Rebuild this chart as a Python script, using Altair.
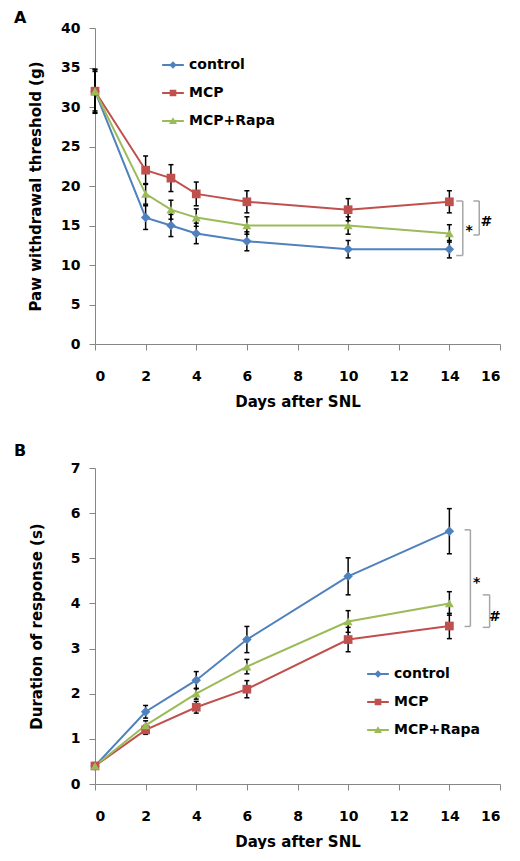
import altair as alt
import pandas as pd

# ---------------- data ----------------
groups = ["control", "MCP", "MCP+Rapa"]
colors = ["#4F81BD", "#C0504D", "#9BBB59"]
shapes = ["diamond", "square", "triangle-up"]
marker_sizes = [90, 76, 80]

# Panel A: paw withdrawal threshold (g)
days_a = [0, 2, 3, 4, 6, 10, 14]
control_a = [32, 16, 15, 14, 13, 12, 12]
mcp_a = [32, 22, 21, 19, 18, 17, 18]
rapa_a = [32, 19, 17, 16, 15, 15, 14]
control_a_err = [2.8, 1.5, 1.4, 1.3, 1.2, 1.1, 1.1]
mcp_a_err = [2.5, 1.8, 1.7, 1.5, 1.4, 1.4, 1.4]
rapa_a_err = [2.7, 1.3, 1.2, 1.1, 1.1, 1.1, 1.1]

# Panel B: duration of response (s)
days_b = [0, 2, 4, 6, 10, 14]
control_b = [0.4, 1.6, 2.3, 3.2, 4.6, 5.6]
mcp_b = [0.4, 1.2, 1.7, 2.1, 3.2, 3.5]
rapa_b = [0.4, 1.3, 2.0, 2.6, 3.6, 4.0]
control_b_err = [0.05, 0.14, 0.19, 0.29, 0.41, 0.5]
mcp_b_err = [0.05, 0.1, 0.13, 0.19, 0.27, 0.28]
rapa_b_err = [0.05, 0.1, 0.12, 0.16, 0.24, 0.26]

# significance brackets (data coordinates)
br_a_label = ["*", "#"]
br_a_xvert = [14.53, 15.18]
br_a_xtick = [14.27, 14.95]
br_a_ytop = [18.1, 18.1]
br_a_ybot = [11.2, 13.8]
br_a_tx = [14.78, 15.46]
br_a_ty = [14.3, 15.5]

br_b_label = ["*", "#"]
br_b_xvert = [14.83, 15.59]
br_b_xtick = [14.6, 15.32]
br_b_ytop = [5.63, 4.19]
br_b_ybot = [3.49, 3.47]
br_b_tx = [15.08, 15.8]
br_b_ty = [4.45, 3.7]

# legend symbols: a line segment with the marker in its middle
LINE = "M-3.1,-0.3H3.1V0.3H-3.1Z"
legend_paths = [
    LINE + "M0,-1.05L1.05,0L0,1.05L-1.05,0Z",
    LINE + "M-0.95,-0.95H0.95V0.95H-0.95Z",
    LINE + "M0,-1.1L1.15,0.85H-1.15Z",
]

FONT = "DejaVu Sans"
PLOT_W = 405
PLOT_H = 316


def panel(days, vals, errs, ydom, yticks, ytitle, title_pad, letter, letter_offset,
          leg_x, leg_y, br_label, br_xvert, br_xtick, br_ytop, br_ybot, br_tx, br_ty):
    rows = []
    for g, v, e in zip(groups, vals, errs):
        for d, y, er in zip(days, v, e):
            rows.append({"day": d, "value": y, "err": er, "group": g})
    df = pd.DataFrame(rows)
    base = alt.Chart(df)

    xscale = alt.Scale(domain=[0, 16], nice=False, zero=False)
    yscale = alt.Scale(domain=ydom, nice=False)
    xaxis = alt.Axis(values=list(range(0, 17, 2)), title="Days after SNL")
    yaxis = alt.Axis(values=yticks, title=ytitle, titlePadding=title_pad)

    def X(f):
        return alt.X(f, type="quantitative", scale=xscale, axis=xaxis, title="Days after SNL")

    def Y(f):
        return alt.Y(f, type="quantitative", scale=yscale, axis=yaxis, title=ytitle)

    eb = base.transform_calculate(lo="datum.value - datum.err", hi="datum.value + datum.err")
    layers = [
        eb.mark_rule(color="black", strokeWidth=1.5).encode(x=X("day"), y=Y("lo"), y2="hi:Q"),
        eb.mark_tick(color="black", orient="horizontal", size=5, thickness=1.5, opacity=1).encode(x=X("day"), y=Y("lo")),
        eb.mark_tick(color="black", orient="horizontal", size=5, thickness=1.5, opacity=1).encode(x=X("day"), y=Y("hi")),
    ]
    for g, c in zip(groups, colors):
        layers.append(
            base.transform_filter(alt.datum.group == g)
            .mark_line(color=c, strokeWidth=2)
            .encode(x=X("day"), y=Y("value"))
        )
    for g, c, s, sz in zip(groups, colors, shapes, marker_sizes):
        layers.append(
            base.transform_filter(alt.datum.group == g)
            .mark_point(color=c, filled=True, shape=s, size=sz, opacity=1)
            .encode(x=X("day"), y=Y("value"))
        )

    bdf = pd.DataFrame({"label": br_label, "xv": br_xvert, "xt": br_xtick,
                        "yt": br_ytop, "yb": br_ybot, "tx": br_tx, "ty": br_ty})
    bb = alt.Chart(bdf)
    gray = "#A6A6A6"
    layers += [
        bb.mark_rule(color=gray, strokeWidth=1.5).encode(x=X("xv"), y=Y("yt"), y2="yb:Q"),
        bb.mark_rule(color=gray, strokeWidth=1.5).encode(x=X("xt"), x2="xv:Q", y=Y("yt")),
        bb.mark_rule(color=gray, strokeWidth=1.5).encode(x=X("xt"), x2="xv:Q", y=Y("yb")),
        bb.mark_text(font=FONT, fontSize=14, fontWeight="bold", color="black").encode(
            x=X("tx"), y=Y("ty"), text="label:N"),
    ]

    leg = alt.Legend(
        title=None, orient="none", legendX=leg_x, legendY=leg_y,
        symbolSize=49, symbolStrokeWidth=0, symbolOffset=7, labelOffset=9,
        rowPadding=14, padding=0,
        labelFont=FONT, labelFontSize=14, labelFontWeight="bold", labelColor="black",
    )
    layers.append(
        base.transform_filter("datum.day < 0")
        .mark_point(filled=True, opacity=1)
        .encode(
            x=X("day"), y=Y("value"),
            color=alt.Color("group:N", scale=alt.Scale(domain=groups, range=colors), legend=leg),
            shape=alt.Shape("group:N", scale=alt.Scale(domain=groups, range=legend_paths), legend=leg),
        )
    )

    return alt.layer(*layers).properties(
        width=PLOT_W, height=PLOT_H,
        title=alt.TitleParams(letter, anchor="start", frame="group", dx=-81, offset=letter_offset,
                              font=FONT, fontSize=16, fontWeight="bold", color="black"),
    )


chart_a = panel(days_a, [control_a, mcp_a, rapa_a], [control_a_err, mcp_a_err, rapa_a_err],
                [0, 40], list(range(0, 41, 5)), "Paw withdrawal threshold (g)", 17, "A", -5,
                64, 30, br_a_label, br_a_xvert, br_a_xtick, br_a_ytop, br_a_ybot, br_a_tx, br_a_ty)
chart_b = panel(days_b, [control_b, mcp_b, rapa_b], [control_b_err, mcp_b_err, rapa_b_err],
                [0, 7], list(range(0, 8)), "Duration of response (s)", 26, "B", 2,
                269, 199, br_b_label, br_b_xvert, br_b_xtick, br_b_ytop, br_b_ybot, br_b_tx, br_b_ty)

chart = alt.vconcat(chart_a, chart_b, spacing=34).resolve_scale(
    color="independent", shape="independent"
).properties(
    padding={"left": 6, "top": 2, "right": 0, "bottom": 0}
).configure_axis(
    grid=False, domainColor="#868686", tickColor="#868686", domainWidth=1, tickWidth=1, tickSize=6,
    labelFont=FONT, labelFontSize=14, labelFontWeight="bold", labelColor="black",
    titleFont=FONT, titleFontSize=15, titleFontWeight="bold", titleColor="black",
).configure_axisX(labelPadding=19, titlePadding=11).configure_axisY(labelPadding=9).configure_view(stroke=None)

chart.save("out.html", embed_options={"renderer": "svg", "actions": False})
